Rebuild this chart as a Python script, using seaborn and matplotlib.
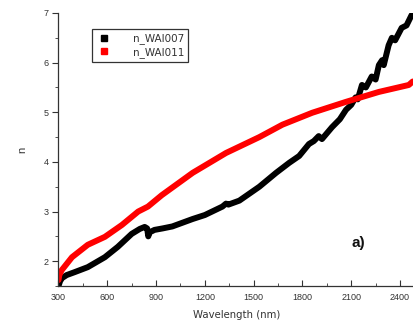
import matplotlib
matplotlib.use("Agg")
import matplotlib.pyplot as plt
import seaborn as sns
import pandas as pd
from matplotlib.ticker import MultipleLocator
from matplotlib.lines import Line2D

wl_007 = [300, 310, 322, 350, 400, 480, 585, 665, 750, 800, 830, 845, 852, 860, 890, 940,
          1000, 1125, 1200, 1308, 1330, 1345, 1412, 1535, 1638, 1718, 1780, 1840, 1870,
          1900, 1920, 1982, 2030, 2068, 2100, 2127, 2140, 2166, 2190, 2226, 2250, 2270,
          2290, 2300, 2330, 2350, 2370, 2410, 2440, 2470, 2490]
n_007 = [1.50, 1.60, 1.66, 1.72, 1.78, 1.88, 2.08, 2.29, 2.55, 2.65, 2.69, 2.66, 2.50, 2.58,
         2.63, 2.66, 2.70, 2.85, 2.93, 3.10, 3.16, 3.14, 3.22, 3.50, 3.78, 3.98, 4.12, 4.36,
         4.42, 4.52, 4.46, 4.70, 4.86, 5.05, 5.15, 5.30, 5.26, 5.55, 5.50, 5.72, 5.66, 5.95,
         6.05, 5.95, 6.35, 6.50, 6.45, 6.70, 6.75, 6.95, 7.05]

wl_011 = [300, 305, 320, 383, 480, 585, 690, 790, 850, 935, 1125, 1330, 1535, 1677, 1860,
          2068, 2270, 2454, 2478]
n_011 = [1.62, 1.72, 1.82, 2.08, 2.33, 2.49, 2.73, 3.00, 3.10, 3.33, 3.78, 4.18, 4.50, 4.75,
         4.99, 5.21, 5.41, 5.55, 5.62]

labels = ["n_WAI007", "n_WAI011"]
colors = ["#000000", "#ff0000"]

df = pd.concat([
    pd.DataFrame({"Wavelength (nm)": wl_007, "n": n_007, "sample": labels[0]}),
    pd.DataFrame({"Wavelength (nm)": wl_011, "n": n_011, "sample": labels[1]}),
])

sns.set_style("ticks")
plt.rcParams["font.family"] = ["Liberation Sans", "DejaVu Sans"]

fig = plt.figure(figsize=(4.14, 3.25), dpi=100)
ax = fig.add_axes([0.1413, 0.12, 0.8587, 0.84])

sns.lineplot(data=df, x="Wavelength (nm)", y="n", hue="sample", palette=colors,
             linewidth=4.3, sort=False, estimator=None, ax=ax, legend=False)

ax.set_xlim(300, 2486)
ax.set_ylim(1.5, 7)
ax.xaxis.set_major_locator(MultipleLocator(300))
ax.xaxis.set_minor_locator(MultipleLocator(150))
ax.yaxis.set_major_locator(MultipleLocator(1))
ax.yaxis.set_minor_locator(MultipleLocator(0.5))
ax.tick_params(axis="x", which="both", direction="in", labelsize=6.5, colors="#333333",
               pad=5)
ax.tick_params(axis="x", which="major", length=4)
ax.tick_params(axis="x", which="minor", length=2.5)
ax.tick_params(axis="y", which="both", direction="out", labelsize=6.5, colors="#333333",
               pad=3)
ax.tick_params(axis="y", which="major", length=4)
ax.tick_params(axis="y", which="minor", length=2.5)
for s in ["top", "right"]:
    ax.spines[s].set_visible(False)
for s in ["left", "bottom"]:
    ax.spines[s].set_color("#333333")
    ax.spines[s].set_linewidth(0.9)

ax.set_xlabel("Wavelength (nm)", fontsize=7.3, color="#333333", labelpad=6,
              family="DejaVu Sans")
ax.set_ylabel("n", fontsize=8, color="#333333", labelpad=12)

handles = [Line2D([], [], marker="s", linestyle="none", color=c, markersize=4) for c in colors]
leg = ax.legend(handles, labels, loc="upper left", bbox_to_anchor=(0.094, 0.94),
                prop={"family": "DejaVu Sans", "size": 7.5}, frameon=True, fancybox=False,
                handlelength=1.6, handletextpad=1.9, borderpad=0.4, labelspacing=0.25,
                labelcolor="#333333", borderaxespad=0)
leg.get_frame().set_edgecolor("#000000")
leg.get_frame().set_linewidth(0.9)

ax.text(0.842, 0.157, "a)", transform=ax.transAxes, fontsize=11, fontweight="bold",
        ha="center", va="center", color="#111111")

fig.savefig("out.png", dpi=100)
